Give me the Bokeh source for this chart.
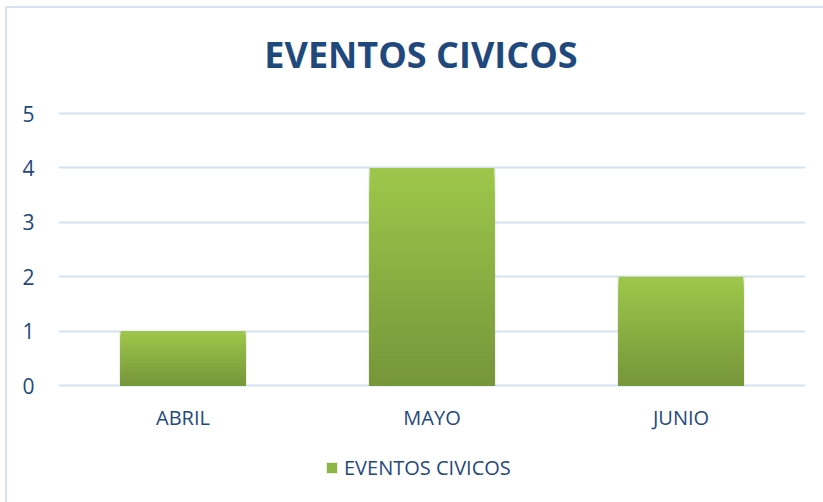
from bokeh.plotting import figure
from bokeh.models import (ColumnDataSource, FactorRange, Legend, LegendItem,
                          FixedTicker, InlineStyleSheet)
from bokeh.core.properties import value
from bokeh.embed import file_html
from bokeh.resources import INLINE

# ---- data ----
title_text = "EVENTOS CIVICOS"
series_name = "EVENTOS CIVICOS"
months = ["ABRIL", "MAYO", "JUNIO"]
eventos = [1, 4, 2]
y_ticks = [0, 1, 2, 3, 4, 5]

TEXT = "#1F497D"
GRID = "#D6E2F1"
TOP_C = (0x9D, 0xC7, 0x4B)
BOT_C = (0x76, 0x96, 0x3A)

# layout geometry (pixels): value 0 at y=385, value 5 at y=113 in a 502 px tall frame
PX = 5 / 272.0
Y_TOP = 5 + 113 * PX
Y_BOT = -117 * PX

css = InlineStyleSheet(css="""
:host::after { content: ''; position: absolute; left: 5px; top: 6px; width: 900px; height: 600px;
  border: 2px solid #D6E2F1; pointer-events: none; z-index: 10; }
""")

p = figure(x_range=FactorRange(*months), y_range=(Y_BOT, Y_TOP),
           frame_width=747, frame_height=502, output_backend="svg", toolbar_location=None,
           min_border_left=58, min_border_right=18, min_border_top=0,
           min_border_bottom=0, stylesheets=[css])
p.x_range.range_padding = 0
p.outline_line_color = None
p.background_fill_color = "white"
p.border_fill_color = "white"
p.xaxis.visible = False

# gradient bars: overlapping slices from the base, light (tall) first, darker (shorter) on top
N = 60
xs, tops, cols = [], [], []
for m, v in zip(months, eventos):
    for k in range(N - 1, -1, -1):
        t = k / (N - 1)
        c = tuple(int(round(BOT_C[i] + (TOP_C[i] - BOT_C[i]) * t)) for i in range(3))
        xs.append(m)
        tops.append(v * (k + 1) / N)
        cols.append("#%02x%02x%02x" % c)

p.vbar(x=months, top=eventos, width=0.515, fill_color="#000000", fill_alpha=0.06,
       line_color=None)
src = ColumnDataSource(dict(x=xs, top=tops, color=cols))
p.vbar(x="x", bottom=0, top="top", width=0.5, fill_color="color",
       line_color=None, source=src)

# category labels under the baseline
p.text(x=months, y=[-32 * PX] * len(months), text=months, text_align="center",
       text_baseline="alphabetic", text_font=value("Open Sans"),
       text_font_size=value("20px"), text_color=TEXT)

# title
p.text(x=[months[1]], y=[5 + 59 * PX], text=[title_text], x_offset=-11,
       text_align="center", text_baseline="alphabetic", text_font=value("Open Sans"),
       text_font_style="bold", text_font_size=value("36px"), text_color=TEXT)

# legend (proxy bar kept outside the visible range)
proxy = p.vbar(x=[months[0]], bottom=[-100], top=[-99], width=0.5,
               fill_color="#8DB546", line_color=None)
legend = Legend(items=[LegendItem(label=series_name, renderers=[proxy])],
                location=(267, 21), orientation="horizontal",
                border_line_color=None, background_fill_alpha=0,
                padding=0, margin=0, glyph_width=13, glyph_height=13,
                label_standoff=6, label_text_font="Open Sans",
                label_text_font_size="20px", label_text_color=TEXT)
p.add_layout(legend, "center")

# y axis
p.yaxis.ticker = FixedTicker(ticks=y_ticks)
p.yaxis.axis_line_color = None
p.yaxis.major_tick_line_color = None
p.yaxis.minor_tick_line_color = None
p.yaxis.major_label_text_font = "Open Sans"
p.yaxis.major_label_text_font_size = "21px"
p.yaxis.major_label_text_color = TEXT
p.yaxis.major_label_standoff = 18

p.xgrid.grid_line_color = None
p.ygrid.ticker = FixedTicker(ticks=y_ticks)
p.ygrid.grid_line_color = GRID
p.ygrid.grid_line_width = 2

open("out.html", "w").write(file_html(p, INLINE))
